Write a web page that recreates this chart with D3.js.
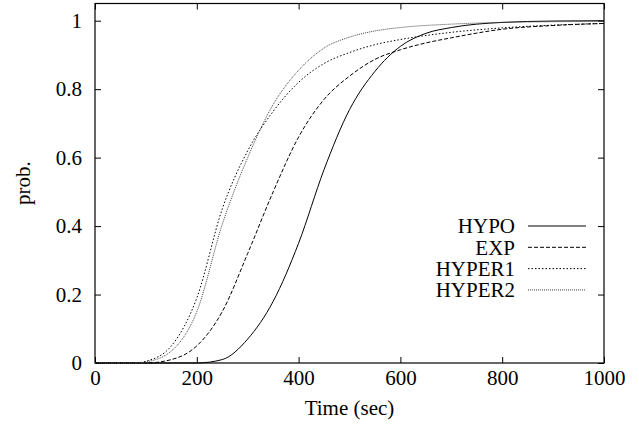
<!DOCTYPE html>
<html>
<head>
<meta charset="utf-8">
<script src="https://cdn.jsdelivr.net/npm/d3@7"></script>
<style>
  body { margin: 0; background: #fff; }
  svg { display: block; }
  text { font-family: "Liberation Serif", "DejaVu Serif", serif !important; fill: #000; }
</style>
</head>
<body>
<svg id="chart" width="639" height="431"></svg>
<script>
const width = 639,
    height = 431;

// time (sec) and probability per series
const hypoT = [0, 200, 250, 300, 350, 400, 450, 500, 550, 600, 650, 700, 800, 900, 1000];
const hypoP = [0, 0, 0.01, 0.07, 0.18, 0.35, 0.565, 0.74, 0.852, 0.925, 0.963, 0.98, 0.995, 0.999, 1];

const expT = [0, 100, 150, 200, 250, 300, 350, 400, 450, 500, 550, 600, 650, 700, 800, 900, 1000];
const expP = [0, 0, 0.01, 0.05, 0.15, 0.32, 0.5, 0.66, 0.77, 0.838, 0.887, 0.915, 0.935, 0.95, 0.975, 0.986, 0.992];

const hyper1T = [0, 80, 100, 150, 200, 250, 300, 350, 400, 450, 500, 550, 600, 700, 800, 900, 1000];
const hyper1P = [0, 0, 0.005, 0.05, 0.19, 0.45, 0.62, 0.735, 0.82, 0.875, 0.907, 0.93, 0.945, 0.966, 0.979, 0.987, 0.992];

const hyper2T = [0, 80, 100, 150, 200, 250, 300, 350, 400, 450, 500, 550, 600, 700, 800, 900, 1000];
const hyper2P = [0, 0, 0.003, 0.035, 0.15, 0.405, 0.6, 0.755, 0.855, 0.92, 0.952, 0.97, 0.98, 0.99, 0.995, 0.997, 0.998];

const seriesNames = ["HYPO", "EXP", "HYPER1", "HYPER2"];
const xTicks = [0, 200, 400, 600, 800, 1000];
const yTicks = [0, 0.2, 0.4, 0.6, 0.8, 1];

const series = [
    { name: seriesNames[0], t: hypoT, p: hypoP, dash: null, color: "#000" },
    { name: seriesNames[1], t: expT, p: expP, dash: "4,2", color: "#000" },
    { name: seriesNames[2], t: hyper1T, p: hyper1P, dash: "1.5,2", color: "#000" },
    { name: seriesNames[3], t: hyper2T, p: hyper2P, dash: "1,1", color: "#444" }
];

const margin = { left: 95, right: width - 604, top: 3.5, bottom: height - 363 };

const x = d3.scaleLinear().domain([0, 1000]).range([margin.left, width - margin.right]);
const y = d3.scaleLinear().domain([0, 1]).range([height - margin.bottom, 20.7]);

const svg = d3.select("#chart");
const tickLen = 6;
const fontSize = 21;
const serif = '"Liberation Serif", "DejaVu Serif", serif';

// frame
svg.append("rect")
    .attr("x", margin.left)
    .attr("y", margin.top)
    .attr("width", width - margin.left - margin.right)
    .attr("height", height - margin.top - margin.bottom)
    .attr("fill", "none")
    .attr("stroke", "#000")
    .attr("stroke-width", 1.2);

// axes, ticks pointing inward, mirrored on top/right
svg.append("g")
    .attr("transform", `translate(0,${height - margin.bottom})`)
    .call(d3.axisBottom(x).tickValues(xTicks).tickSizeInner(-tickLen).tickSizeOuter(0).tickPadding(7)
        .tickFormat(d3.format("d")))
    .call(g => g.select(".domain").remove())
    .call(g => g.attr("font-family", serif).attr("font-size", fontSize));

svg.append("g")
    .attr("transform", `translate(0,${margin.top})`)
    .call(d3.axisTop(x).tickValues(xTicks).tickSizeInner(-tickLen).tickSizeOuter(0).tickFormat(""))
    .call(g => g.select(".domain").remove());

svg.append("g")
    .attr("transform", `translate(${margin.left},0)`)
    .call(d3.axisLeft(y).tickValues(yTicks).tickSizeInner(-tickLen).tickSizeOuter(0).tickPadding(13)
        .tickFormat(d => String(+d.toFixed(1))))
    .call(g => g.select(".domain").remove())
    .call(g => g.attr("font-family", serif).attr("font-size", fontSize));

svg.append("g")
    .attr("transform", `translate(${width - margin.right},0)`)
    .call(d3.axisRight(y).tickValues(yTicks).tickSizeInner(-tickLen).tickSizeOuter(0).tickFormat(""))
    .call(g => g.select(".domain").remove());

// axis titles
svg.append("text")
    .attr("x", (margin.left + width - margin.right) / 2)
    .attr("y", 415)
    .attr("text-anchor", "middle")
    .attr("font-size", fontSize)
    .text("Time (sec)");

svg.append("text")
    .attr("transform", "translate(30,183) rotate(-90)")
    .attr("text-anchor", "middle")
    .attr("font-size", fontSize)
    .text("prob.");

// curves
const line = d3.line()
    .x(d => x(d[0]))
    .y(d => y(d[1]))
    .curve(d3.curveMonotoneX);

series.forEach(s => {
    const pts = s.t.map((t, i) => [t, s.p[i]]);
    svg.append("path")
        .datum(pts)
        .attr("d", line)
        .attr("fill", "none")
        .attr("stroke", s.color)
        .attr("stroke-width", 1)
        .attr("stroke-dasharray", s.dash);
});

// legend
const legend = svg.append("g");
series.forEach((s, i) => {
    const ly = 226 + i * 21.3;
    legend.append("text")
        .attr("x", 515)
        .attr("y", ly)
        .attr("dy", "0.35em")
        .attr("text-anchor", "end")
        .attr("font-size", fontSize)
        .text(s.name);
    legend.append("line")
        .attr("x1", 528)
        .attr("x2", 586)
        .attr("y1", ly)
        .attr("y2", ly)
        .attr("stroke", s.color)
        .attr("stroke-width", 1)
        .attr("stroke-dasharray", s.dash);
});
</script>
</body>
</html>
